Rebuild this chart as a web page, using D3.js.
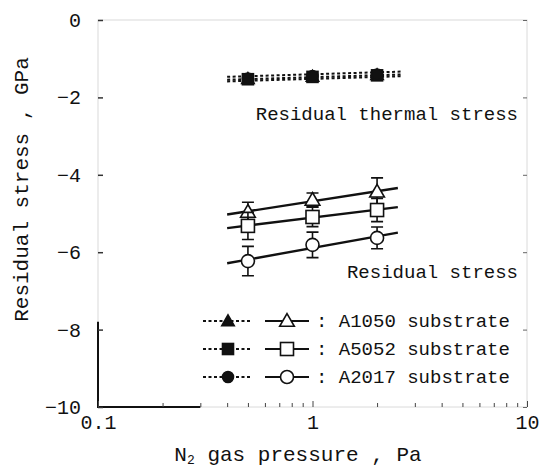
<!DOCTYPE html>
<html>
<head>
<meta charset="utf-8">
<script src="https://cdn.jsdelivr.net/npm/d3@7"></script>
<style>
  html, body { margin: 0; padding: 0; background: #fff; }
  svg { display: block; }
  text { font-family: "Liberation Mono", "DejaVu Sans Mono", monospace; fill: #111; }
</style>
</head>
<body>
<svg id="chart" width="546" height="472"></svg>
<script>
// N2 gas pressure (Pa) at which films were deposited
const pressures = [0.5, 1, 2];

// Residual thermal stress (GPa), one per substrate
const thermalA1050 = [-1.52, -1.46, -1.42];
const thermalA5052 = [-1.53, -1.47, -1.43];
const thermalA2017 = [-1.51, -1.45, -1.41];

// Measured residual stress (GPa) and error half-widths
const stressA1050 = [-4.96, -4.65, -4.44];
const errA1050    = [0.25, 0.18, 0.36];
const stressA5052 = [-5.32, -5.09, -4.91];
const errA5052    = [0.35, 0.25, 0.3];
const stressA2017 = [-6.23, -5.81, -5.63];
const errA2017    = [0.38, 0.33, 0.28];

const seriesNames = ["A1050", "A5052", "A2017"];
const markerKinds = ["triangle", "square", "circle"];
const yTicks = [0, -2, -4, -6, -8, -10];
const xTicks = [0.1, 1, 10];
const xTickLabels = ["0.1", "1", "10"];
const fitRange = [0.4, 2.5];

const svg = d3.select("#chart");
const x = d3.scaleLog().domain([0.1, 10]).range([98, 527]);
const y = d3.scaleLinear().domain([-10, 0]).range([407, 20]);

// Plot frame
svg.append("rect")
  .attr("x", x(0.1)).attr("y", y(0))
  .attr("width", x(10) - x(0.1)).attr("height", y(-10) - y(0))
  .attr("fill", "none").attr("stroke", "#dadada").attr("stroke-width", 1);
svg.append("path")
  .attr("d", `M${x(0.1)},${y(-7.8)}V${y(-10)}H${x(0.3)}`)
  .attr("fill", "none").attr("stroke", "#111").attr("stroke-width", 2);

// Y axis: inward ticks, labels on the left
const yAxis = d3.axisLeft(y).tickValues(yTicks).tickSize(-5).tickPadding(17)
  .tickFormat(d => d === 0 ? "0" : "\u2212" + Math.abs(d));
const gy = svg.append("g").attr("transform", `translate(${x(0.1)},0)`).call(yAxis);
gy.select(".domain").remove();
gy.selectAll("line").attr("stroke", "#333").attr("stroke-width", 1.5);
gy.selectAll("text").style("font-size", "20px").attr("fill", "#111");

// Right-side ticks
const gyr = svg.append("g").attr("transform", `translate(${x(10)},0)`)
  .call(d3.axisRight(y).tickValues(yTicks).tickSize(-4).tickFormat(""));
gyr.select(".domain").remove();
gyr.selectAll("line").attr("stroke", "#666");

// X axis: decade labels plus inward minor ticks
const xAll = [];
for (const dec of [0.1, 1]) for (let k = 1; k <= 9; k++) xAll.push(+(dec * k).toPrecision(2));
xAll.push(10);
const xAxis = d3.axisBottom(x).tickValues(xAll)
  .tickSize(-4).tickPadding(8)
  .tickFormat(d => { const i = xTicks.indexOf(d); return i >= 0 ? xTickLabels[i] : ""; });
const gx = svg.append("g").attr("transform", `translate(0,${y(-10)})`).call(xAxis);
gx.select(".domain").remove();
gx.selectAll("line").attr("stroke", "#444")
  .attr("y2", d => xTicks.includes(d) ? -6 : -4);
gx.selectAll("text").style("font-size", "20px").attr("fill", "#111");

// Axis titles
svg.append("text")
  .attr("transform", `translate(28,${(y(0) + y(-10)) / 2 - 24}) rotate(-90)`)
  .attr("text-anchor", "middle").style("font-size", "21px")
  .text("Residual stress , GPa");
const xt = svg.append("text")
  .attr("x", 298).attr("y", 461).attr("text-anchor", "middle").style("font-size", "21px");
xt.append("tspan").text("N");
xt.append("tspan").attr("dy", 3).style("font-size", "13px").text("2");
xt.append("tspan").attr("dy", -3).text(" gas pressure , Pa");

// Marker drawing helper
function marker(g, kind, cx, cy, filled, size) {
  const s = size || 13;
  const fill = filled ? "#111" : "#fff";
  if (kind === "triangle") {
    g.append("path").attr("d", d3.symbol(d3.symbolTriangle, s * s * 0.55)())
      .attr("transform", `translate(${cx},${cy + 1})`)
      .attr("fill", fill).attr("stroke", "#111").attr("stroke-width", 1.6);
  } else if (kind === "square") {
    g.append("rect").attr("x", cx - s / 2).attr("y", cy - s / 2)
      .attr("width", s).attr("height", s)
      .attr("fill", fill).attr("stroke", "#111").attr("stroke-width", 1.6);
  } else {
    g.append("circle").attr("cx", cx).attr("cy", cy).attr("r", s / 2)
      .attr("fill", fill).attr("stroke", "#111").attr("stroke-width", 1.6);
  }
}

// Least-squares line of stress vs log10(pressure)
function fit(vals) {
  const lx = pressures.map(Math.log10);
  const mx = d3.mean(lx), my = d3.mean(vals);
  const b = d3.sum(lx, (v, i) => (v - mx) * (vals[i] - my)) / d3.sum(lx, v => (v - mx) ** 2);
  return p => my + b * (Math.log10(p) - mx);
}

const plot = svg.append("g");

// Thermal stress: dotted fit lines with filled markers
const thermal = [thermalA1050, thermalA5052, thermalA2017];
thermal.forEach((vals, k) => {
  const f = fit(vals);
  plot.append("line")
    .attr("x1", x(fitRange[0])).attr("y1", y(f(fitRange[0])) + (k - 1) * 2.5)
    .attr("x2", x(2.6)).attr("y2", y(f(2.6)) + (k - 1) * 2.5)
    .attr("stroke", "#111").attr("stroke-width", 2).attr("stroke-dasharray", "3,2.5");
});
thermal.forEach((vals, k) => {
  vals.forEach((v, i) => marker(plot, markerKinds[k], x(pressures[i]), y(v), true, 11));
});

// Residual stress: solid fit lines, error bars, open markers
const stress = [stressA1050, stressA5052, stressA2017];
const errs = [errA1050, errA5052, errA2017];
stress.forEach(vals => {
  const f = fit(vals);
  plot.append("line")
    .attr("x1", x(fitRange[0])).attr("y1", y(f(fitRange[0])))
    .attr("x2", x(fitRange[1])).attr("y2", y(f(fitRange[1])))
    .attr("stroke", "#111").attr("stroke-width", 2.4);
});
stress.forEach((vals, k) => {
  vals.forEach((v, i) => {
    const cx = x(pressures[i]);
    const top = y(v + errs[k][i]), bot = y(v - errs[k][i]);
    plot.append("path")
      .attr("d", `M${cx},${top}V${bot}M${cx - 6},${top}H${cx + 6}M${cx - 6},${bot}H${cx + 6}`)
      .attr("stroke", "#111").attr("stroke-width", 1.6).attr("fill", "none");
    marker(plot, markerKinds[k], cx, y(v), false, 13);
  });
});

// Annotations
svg.append("text").attr("x", 518).attr("y", 120).attr("text-anchor", "end")
  .style("font-size", "19px").text("Residual thermal stress");
svg.append("text").attr("x", 518).attr("y", 278).attr("text-anchor", "end")
  .style("font-size", "19px").text("Residual stress");

// Legend
const legendY = [321, 349, 377];
seriesNames.forEach((name, k) => {
  const g = svg.append("g");
  const ly = legendY[k];
  g.append("line").attr("x1", 203).attr("x2", 252).attr("y1", ly).attr("y2", ly)
    .attr("stroke", "#111").attr("stroke-width", 2).attr("stroke-dasharray", "3,2.5");
  marker(g, markerKinds[k], 228, ly, true, 11);
  g.append("line").attr("x1", 265).attr("x2", 309).attr("y1", ly).attr("y2", ly)
    .attr("stroke", "#111").attr("stroke-width", 2);
  marker(g, markerKinds[k], 287, ly, false, 13);
  g.append("text").attr("x", 316).attr("y", ly + 6).style("font-size", "19px")
    .text(": " + name + " substrate");
});
</script>
</body>
</html>
